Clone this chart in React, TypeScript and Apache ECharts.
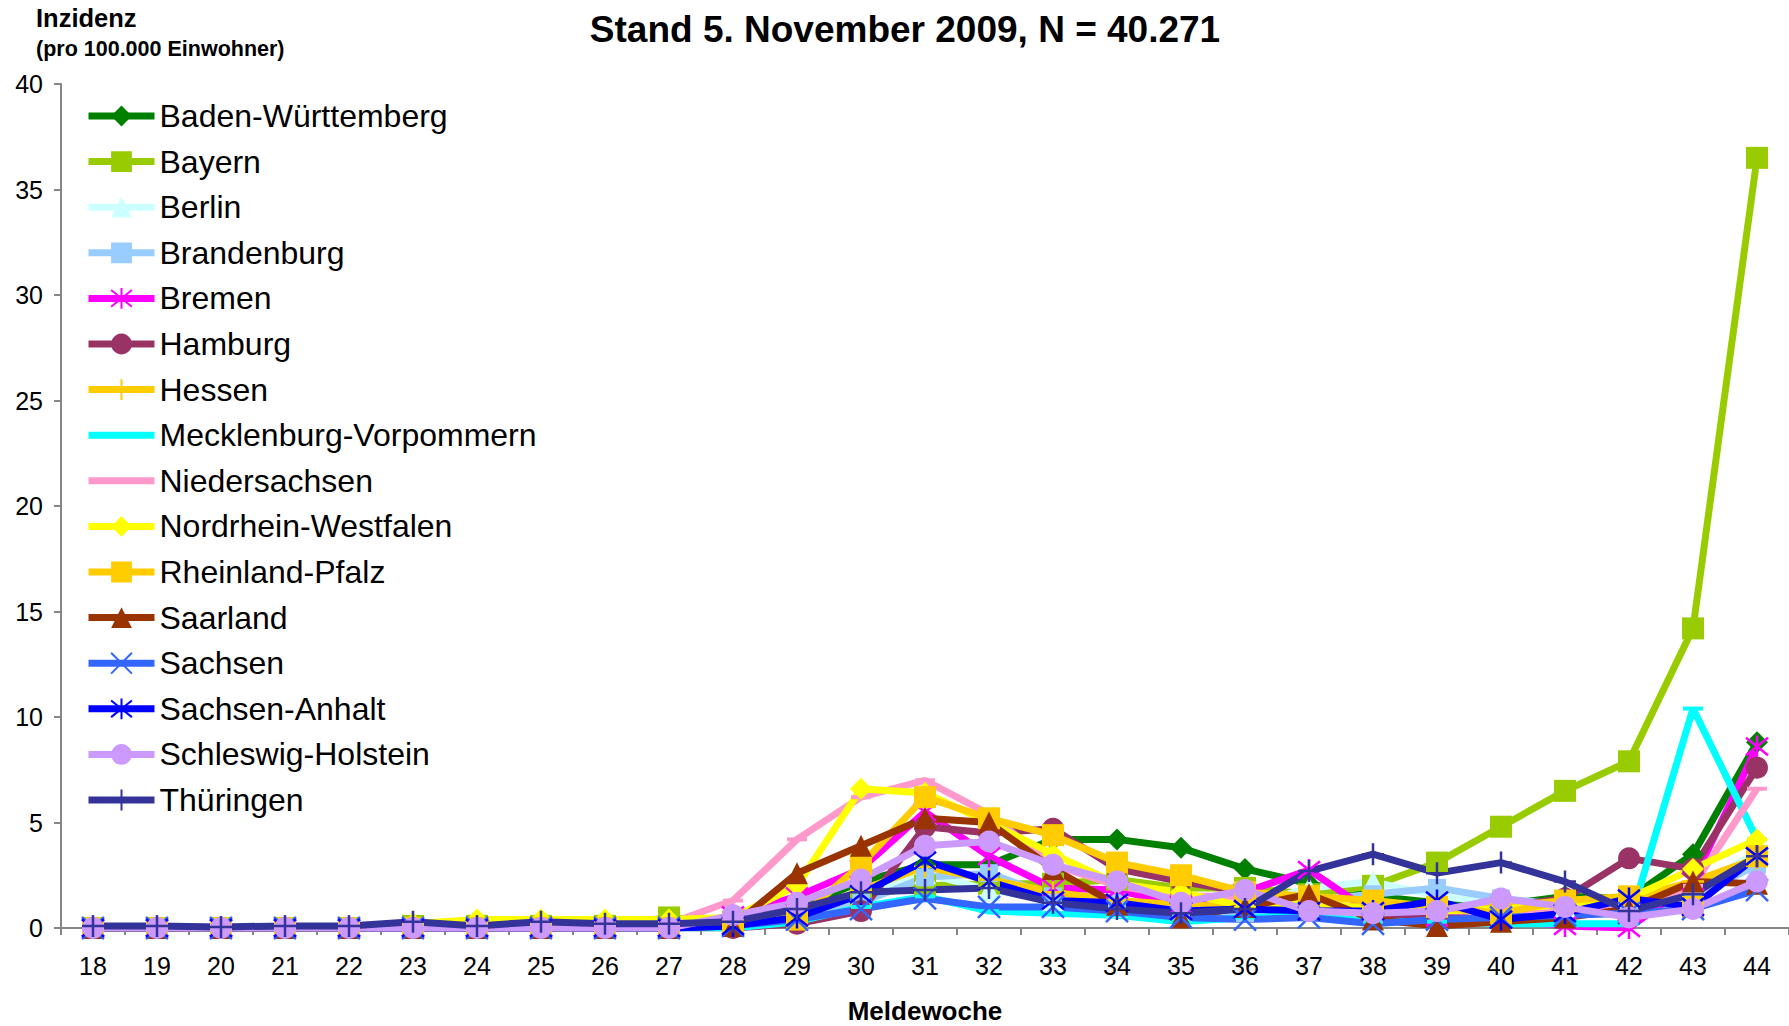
import { useEffect, useRef } from 'react';
import * as echarts from 'echarts';

const weeks = ['18','19','20','21','22','23','24','25','26','27','28','29','30','31','32','33','34','35','36','37','38','39','40','41','42','43','44'];

const badenWuerttemberg = [0,0,0,0,0,0.1,0.1,0.1,0.1,0.1, 0.2,0.9,2.2,3.0,3.0,4.2,4.2,3.8,2.8,2.1,1.5,1.2,1.1,1.5,1.4,3.5,8.8];
const bayern = [0,0,0,0,0,0.1,0.1,0.1,0.1,0.5, 0.3,0.5,1.5,2.0,2.1,2.1,2.3,1.9,1.9,1.6,2.0,3.1,4.8,6.5,7.9,14.2,36.5];
const berlin = [0,0,0,0,0,0,0,0,0,0.1, 0.2,0.6,1.5,2.6,1.8,1.3,1.0,0.8,1.0,1.9,2.2,1.5,1.2,1.0,1.0,1.8,3.6];
const brandenburg = [0,0,0,0,0,0,0,0,0,0, 0.2,0.5,1.2,2.4,2.6,1.5,1.2,0.8,0.7,1.3,1.6,1.9,1.4,1.1,1.2,1.4,3.0];
const bremen = [0,0,0,0,0,0,0,0,0,0, 0.6,1.5,2.8,5.5,3.4,1.9,1.8,1.1,1.7,2.75,0.7,0.5,0.4,0.1,0.0,2.2,8.6];
const hamburg = [0,0,0,0,0,0,0,0,0,0, 0.0,0.2,0.8,4.8,4.5,4.7,2.8,2.2,1.7,1.2,0.6,0.6,1.0,1.4,3.3,2.8,7.6];
const hessen = [0,0,0,0,0,0.2,0.3,0.3,0.2,0.2, 0.3,0.5,1.8,2.9,2.3,1.7,1.3,1.1,1.0,1.1,1.0,0.9,1.0,1.3,1.4,2.2,3.3];
const mecklenburgVorpommern = [0,0,0,0,0,0,0,0,0,0, 0.0,0.3,1.0,1.5,0.8,0.7,0.6,0.3,0.5,0.6,0.3,0.3,0.2,0.2,0.2,10.4,4.2];
const niedersachsen = [0,0,0,0,0,0,0,0,0,0.2, 1.3,4.2,6.2,7.0,5.4,3.0,2.0,1.5,1.5,1.0,0.8,0.8,0.8,0.9,0.8,2.0,6.6];
const nordrheinWestfalen = [0,0,0,0,0,0.2,0.4,0.4,0.4,0.4, 0.5,2.0,6.6,6.4,5.0,3.5,2.1,1.7,1.0,1.2,0.9,0.8,0.9,1.1,1.4,2.8,4.2];
const rheinlandPfalz = [0,0,0,0,0,0,0,0,0,0, 0.2,0.4,3.0,6.2,5.2,4.4,3.1,2.5,1.7,1.5,1.3,1.0,0.7,1.3,1.5,1.0,3.4];
const saarland = [0,0,0,0,0,0,0,0,0,0, 0.1,2.6,3.9,5.2,5.0,2.8,1.1,0.5,1.0,1.6,0.4,0.1,0.3,0.5,0.9,2.2,2.1];
const sachsen = [0,0,0,0,0,0,0,0,0,0, 0.1,0.4,0.9,1.4,1.0,1.0,0.8,0.5,0.4,0.5,0.2,0.4,0.5,0.6,0.7,0.9,1.8];
const sachsenAnhalt = [0,0,0,0,0,0,0,0,0,0, 0.1,0.5,1.6,3.2,2.2,1.3,1.2,0.8,0.9,0.8,0.8,1.3,0.4,0.7,1.4,1.0,3.4];
const schleswigHolstein = [0,0,0,0,0,0,0,0,0,0, 0.6,1.2,2.3,3.9,4.1,3.0,2.2,1.2,1.8,0.8,0.7,0.8,1.4,1.0,0.5,0.9,2.2];
const thueringen = [0.1,0.1,0.05,0.1,0.1,0.3,0.1,0.3,0.2,0.2, 0.3,0.9,1.7,1.8,1.9,1.2,0.9,0.7,0.9,2.7,3.5,2.6,3.1,2.2,0.8,1.6,3.4];

const yTicks = { min: 0, max: 40, interval: 5 };

const FONT = "'Liberation Sans', Arial, Helvetica, sans-serif";

const SYM_X = 'path://M0 0L20 20M20 0L0 20';
const SYM_PLUS = 'path://M10 0L10 20M0 10L20 10';
const SYM_AST = 'path://M10 0L10 20M0 2L20 18M20 2L0 18';
const SYM_DASH = 'path://M0 0M0 8H20V12H0ZM20 20';

type Def = { name: string; data: number[]; color: string; symbol: string; size: number; stroke?: boolean };

const defs: Def[] = [
  { name: 'Baden-Württemberg', data: badenWuerttemberg, color: '#008000', symbol: 'diamond', size: 22 },
  { name: 'Bayern', data: bayern, color: '#99CC00', symbol: 'rect', size: 22 },
  { name: 'Berlin', data: berlin, color: '#CCFFFF', symbol: 'triangle', size: 22 },
  { name: 'Brandenburg', data: brandenburg, color: '#99CCFF', symbol: 'rect', size: 18 },
  { name: 'Bremen', data: bremen, color: '#FF00FF', symbol: SYM_AST, size: 22, stroke: true },
  { name: 'Hamburg', data: hamburg, color: '#993366', symbol: 'circle', size: 22 },
  { name: 'Hessen', data: hessen, color: '#FFCC00', symbol: SYM_PLUS, size: 22, stroke: true },
  { name: 'Mecklenburg-Vorpommern', data: mecklenburgVorpommern, color: '#00FFFF', symbol: SYM_DASH, size: 20 },
  { name: 'Niedersachsen', data: niedersachsen, color: '#FF99CC', symbol: SYM_DASH, size: 20 },
  { name: 'Nordrhein-Westfalen', data: nordrheinWestfalen, color: '#FFFF00', symbol: 'diamond', size: 22 },
  { name: 'Rheinland-Pfalz', data: rheinlandPfalz, color: '#FFCC00', symbol: 'rect', size: 22 },
  { name: 'Saarland', data: saarland, color: '#993300', symbol: 'triangle', size: 22 },
  { name: 'Sachsen', data: sachsen, color: '#3366FF', symbol: SYM_X, size: 22, stroke: true },
  { name: 'Sachsen-Anhalt', data: sachsenAnhalt, color: '#0000FF', symbol: SYM_AST, size: 22, stroke: true },
  { name: 'Schleswig-Holstein', data: schleswigHolstein, color: '#CC99FF', symbol: 'circle', size: 22 },
  { name: 'Thüringen', data: thueringen, color: '#333399', symbol: SYM_PLUS, size: 22, stroke: true },
];

export default function App() {
  const ref = useRef<HTMLDivElement>(null);
  useEffect(() => {
    if (!ref.current) return;
    const chart = echarts.init(ref.current, undefined, { renderer: 'svg' });
    const axisGray = '#868686';
    chart.setOption({
      animation: false,
      backgroundColor: '#ffffff',
      textStyle: { fontFamily: FONT },
      grid: { left: 61, top: 84, width: 1728, height: 844, containLabel: false, outerBoundsMode: 'none' },
      legend: {
        orient: 'vertical',
        left: 85,
        top: 100,
        padding: 0,
        itemWidth: 66,
        itemHeight: 26,
        itemGap: 13.6,
        selectedMode: false,
        data: defs.map((d) => d.name),
        lineStyle: { width: 7 },
        textStyle: { fontSize: 32, fontFamily: FONT, color: '#000' },
      },
      xAxis: {
        type: 'category',
        data: weeks,
        boundaryGap: true,
        name: 'Meldewoche',
        nameLocation: 'middle',
        nameGap: 70,
        nameTextStyle: { fontSize: 26, fontWeight: 'bold', color: '#000', fontFamily: FONT },
        axisLine: { lineStyle: { color: axisGray, width: 2 } },
        axisTick: { show: true, interval: 0, length: 7, lineStyle: { color: axisGray, width: 2 } },
        axisLabel: { fontSize: 25, color: '#000', margin: 25, interval: 0, fontFamily: FONT },
        splitLine: { show: false },
      },
      yAxis: {
        type: 'value',
        min: yTicks.min,
        max: yTicks.max,
        interval: yTicks.interval,
        axisLine: { show: true, lineStyle: { color: axisGray, width: 2 } },
        axisTick: { show: true, length: 7, lineStyle: { color: axisGray, width: 2 } },
        axisLabel: { fontSize: 25, color: '#000', margin: 18, fontFamily: FONT },
        splitLine: { show: false },
      },
      graphic: [
        {
          type: 'text', x: 905, y: 29,
          style: { text: 'Stand 5. November 2009, N = 40.271', font: `bold 37px ${FONT}`, fill: '#000', textAlign: 'center', textVerticalAlign: 'middle', verticalAlign: 'middle' },
        },
        {
          type: 'text', x: 36, y: 18,
          style: { text: 'Inzidenz', font: `bold 25.5px ${FONT}`, fill: '#000', textAlign: 'left', textVerticalAlign: 'middle', verticalAlign: 'middle' },
        },
        {
          type: 'text', x: 36, y: 49,
          style: { text: '(pro 100.000 Einwohner)', font: `bold 21.5px ${FONT}`, fill: '#000', textAlign: 'left', textVerticalAlign: 'middle', verticalAlign: 'middle' },
        },
      ],
      series: defs.map((d) => ({
        name: d.name,
        type: 'line',
        data: d.data,
        symbol: d.symbol,
        symbolSize: d.size,
        showAllSymbol: true,
        lineStyle: { color: d.color, width: 7 },
        itemStyle: { color: d.color, borderColor: d.color, borderWidth: d.stroke ? 2.5 : 0 },
        emphasis: { disabled: true },
        silent: true,
      })),
    });
    return () => chart.dispose();
  }, []);
  return <div ref={ref} style={{ position: 'absolute', left: 0, top: 0, width: 1789, height: 1026 }} />;
}
